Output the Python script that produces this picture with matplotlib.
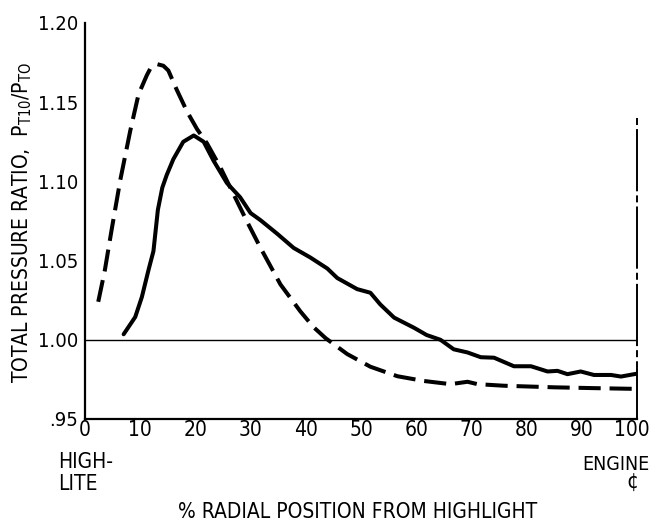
import matplotlib
matplotlib.use("Agg")
import matplotlib.pyplot as plt
import matplotlib.transforms as mtransforms
import numpy as np

plt.rcParams["font.family"] = ["DejaVu Sans Condensed", "DejaVu Sans"]
plt.rcParams["font.stretch"] = "condensed"
plt.rcParams["mathtext.default"] = "regular"

# total pressure ratio vs radial position, two profiles
dashed_x = [2.4, 3.6, 4.8, 6.4, 8.2, 9.7, 11.2, 11.8, 13.1, 14.2, 15.1, 16.6,
            18.5, 20.3, 22.1, 24.5, 26.9, 29.3, 31.8, 35.4, 39.0, 41.4, 43.6,
            47.5, 51.7, 56.6, 61.4, 66.2, 69.3, 71.1, 75.9, 85.0, 92.0, 100.0]
dashed_ratio = [1.024, 1.044, 1.069, 1.101, 1.132, 1.155, 1.167, 1.171, 1.174,
                1.173, 1.170, 1.158, 1.144, 1.133, 1.124, 1.109, 1.092, 1.075,
                1.058, 1.035, 1.018, 1.008, 1.001, 0.991, 0.983, 0.977, 0.974,
                0.972, 0.9735, 0.972, 0.971, 0.970, 0.9695, 0.969]

solid_x = [7.0, 9.1, 10.3, 11.5, 12.4, 12.8, 13.2, 14.0, 14.8, 15.4, 16.0,
           17.8, 19.7, 21.5, 23.3, 25.7, 28.1, 30.0, 31.8, 34.8, 37.8, 40.8,
           43.9, 45.7, 49.3, 51.7, 53.5, 56.0, 59.6, 61.9, 64.4, 66.8, 69.3,
           71.7, 74.1, 77.7, 80.8, 83.8, 85.6, 87.4, 89.8, 92.2, 95.3, 97.1,
           99.8]
solid_ratio = [1.0035, 1.0144, 1.027, 1.044, 1.056, 1.069, 1.082, 1.096, 1.104,
               1.109, 1.114, 1.125, 1.129, 1.125, 1.113, 1.099, 1.090, 1.080,
               1.0755, 1.067, 1.058, 1.052, 1.045, 1.039, 1.032, 1.0297,
               1.0223, 1.014, 1.0076, 1.003, 1.000, 0.994, 0.992, 0.989,
               0.9887, 0.9833, 0.9833, 0.980, 0.9804, 0.9783, 0.980, 0.9778,
               0.9778, 0.9768, 0.9785]

x_ticks = [0, 10, 20, 30, 40, 50, 60, 70, 80, 90, 100]
y_ticks = [0.95, 1.00, 1.05, 1.10, 1.15, 1.20]
y_tick_labels = [".95", "1.00", "1.05", "1.10", "1.15", "1.20"]
centerline_top = 1.140

W, H = 652, 523
fig = plt.figure(figsize=(W / 100, H / 100), dpi=100)
ax = fig.add_axes([85 / W, 1 - 419 / H, (637 - 85) / W, (419 - 23) / H])

ax.plot(solid_x, solid_ratio, color="black", lw=2.9, solid_joinstyle="round",
        solid_capstyle="round")
ax.plot(dashed_x, dashed_ratio, color="black", lw=2.9, dashes=(5.5, 2.2))
ax.axhline(1.0, color="black", lw=1.0)
ax.plot([100, 100], [centerline_top, 0.95], color="black", lw=1.4,
        dashes=(3.6, 2.1, 32, 2.1), clip_on=False)

ax.set_xlim(0, 100)
ax.set_ylim(0.95, 1.20)
for side in ["top", "right"]:
    ax.spines[side].set_visible(False)
for side in ["left", "bottom"]:
    ax.spines[side].set_linewidth(1.6)

ax.set_xticks(x_ticks)
ax.set_xticklabels([str(t) for t in x_ticks])
ax.set_yticks(y_ticks)
ax.set_yticklabels(y_tick_labels)
ax.tick_params(axis="x", which="major", length=0, labelsize=15, pad=1)
ax.tick_params(axis="y", which="major", length=0, labelsize=14.5, pad=5)

# keep "100" inside the figure edge
last = ax.get_xticklabels()[-1]
last.set_transform(last.get_transform()
                   + mtransforms.ScaledTranslation(-0.05, 0, fig.dpi_scale_trans))

ax.set_xticks(x_ticks[1:-1], minor=True)
ax.set_yticks([1.05, 1.10, 1.15, 1.20], minor=True)
ax.tick_params(axis="x", which="minor", direction="in", length=18, width=1.4)
ax.tick_params(axis="y", which="minor", direction="in", length=20, width=1.4)

fig.text(28 / W, 1 - 222 / H, "TOTAL PRESSURE RATIO,  $P_{T10}/P_{TO}$",
         rotation=90, rotation_mode="anchor", ha="center", va="baseline",
         fontsize=15)
fig.text(358 / W, 1 - 518 / H, "% RADIAL POSITION FROM HIGHLIGHT",
         ha="center", va="baseline", fontsize=15)
fig.text(58 / W, 1 - 468 / H, "HIGH-", ha="left", va="baseline", fontsize=15)
fig.text(58 / W, 1 - 490 / H, "LITE", ha="left", va="baseline", fontsize=15)
fig.text(649 / W, 1 - 470 / H, "ENGINE", ha="right", va="baseline",
         fontsize=14)
fig.text(632 / W, 1 - 489 / H, "¢", ha="center", va="baseline", fontsize=15)

fig.savefig("out.png", dpi=100)
